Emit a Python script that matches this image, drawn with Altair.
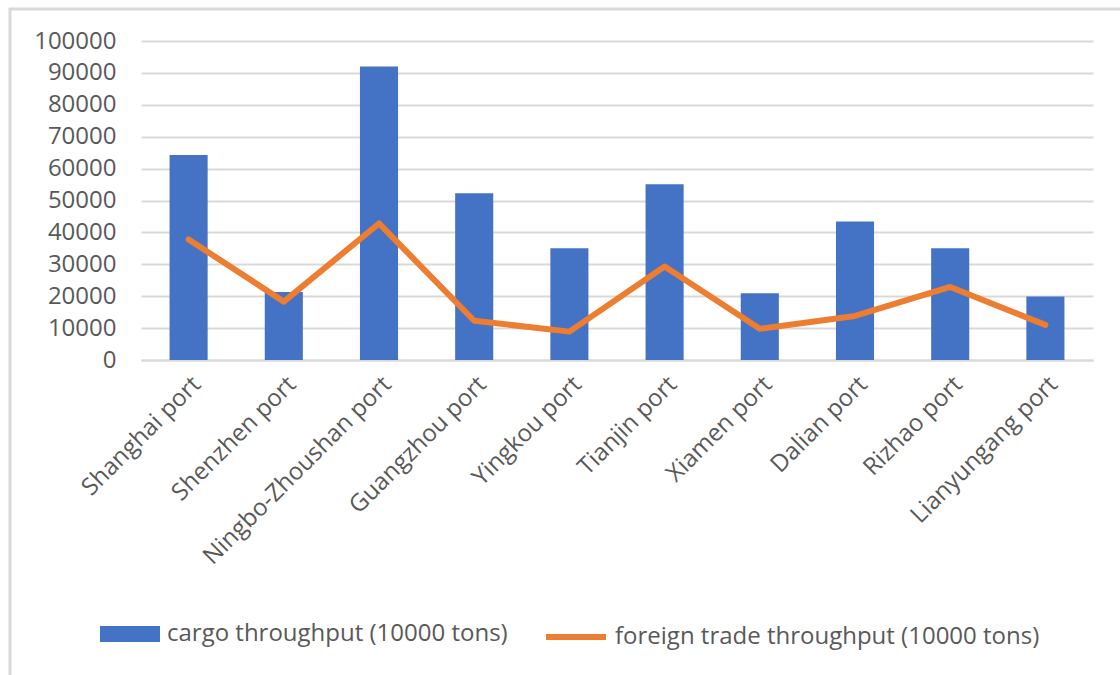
import altair as alt
import pandas as pd

# Port throughput figures (unit: 10000 tons)
ports = [
    "Shanghai port", "Shenzhen port", "Ningbo-Zhoushan port", "Guangzhou port",
    "Yingkou port", "Tianjin port", "Xiamen port", "Dalian port",
    "Rizhao port", "Lianyungang port",
]
cargo = [64300, 21300, 92000, 52300, 35000, 55100, 20900, 43400, 35000, 19900]
foreign = [37800, 18300, 42800, 12300, 8900, 29300, 9800, 13800, 22900, 11000]
y_ticks = [0, 10000, 20000, 30000, 40000, 50000, 60000, 70000, 80000, 90000, 100000]

cargo_name = "cargo throughput (10000 tons)"
foreign_name = "foreign trade throughput (10000 tons)"

BLUE = "#4472C4"
ORANGE = "#ED7D31"
GRID = "#D9D9D9"
TEXT = "#595959"
FONT = "Open Sans"
FS = 24

df = pd.DataFrame({"port": ports, "cargo": cargo, "foreign": foreign})
df["cargo_series"] = cargo_name
df["foreign_series"] = foreign_name

x_scale = alt.Scale(paddingInner=0.6, paddingOuter=0.3)
x_axis = alt.Axis(
    title=None, labelAngle=315, labelAlign="right", labelBaseline="top",
    labelPadding=12, ticks=False, domain=True, domainColor=GRID,
    domainWidth=2, labelFontSize=FS, labelColor=TEXT, labelFont=FONT,
    labelLimit=400, labelOverlap=False,
)

y_scale = alt.Scale(domain=[0, 100000], nice=False)
y_axis = alt.Axis(
    title=None, values=y_ticks, format="d",
    grid=True, gridColor=GRID, gridWidth=2, domain=False, ticks=False,
    labelPadding=25, labelFontSize=FS, labelColor=TEXT, labelFont=FONT,
    labelOverlap=False,
)

rect_path = "M-1,-0.267L1,-0.267L1,0.267L-1,0.267Z"
line_path = "M-1,0L1,0"

bars = alt.Chart(df).mark_bar(color=BLUE).encode(
    x=alt.X("port:N", sort=ports, scale=x_scale, axis=x_axis),
    y=alt.Y("cargo:Q", scale=y_scale, axis=y_axis),
    color=alt.Color(
        "cargo_series:N",
        scale=alt.Scale(domain=[cargo_name], range=[BLUE]),
        legend=alt.Legend(
            title=None, orient="none", legendX=-41, legendY=563,
            symbolType=rect_path, symbolSize=3600, symbolStrokeWidth=0,
            labelFontSize=FS, labelColor=TEXT, labelFont=FONT,
            labelOffset=7, padding=0, labelLimit=600,
        ),
    ),
)

line = alt.Chart(df).mark_line(
    color=ORANGE, strokeWidth=6, strokeJoin="round", strokeCap="round"
).encode(
    x=alt.X("port:N", sort=ports, scale=x_scale, axis=x_axis),
    y=alt.Y("foreign:Q", scale=y_scale, axis=y_axis),
    stroke=alt.Stroke(
        "foreign_series:N",
        scale=alt.Scale(domain=[foreign_name], range=[ORANGE]),
        legend=alt.Legend(
            title=None, orient="none", legendX=402, legendY=563,
            symbolType=line_path, symbolSize=3600, symbolStrokeWidth=6,
            symbolFillColor="transparent",
            labelFontSize=FS, labelColor=TEXT, labelFont=FONT,
            labelOffset=6, padding=0, labelLimit=600,
        ),
    ),
)

# Outer frame of the chart card (top and left edges)
frame_data = alt.Data(values=[{"k": 0}])
frame_top = alt.Chart(frame_data).mark_rule(color=GRID, strokeWidth=3).encode(
    x=alt.value(-132), x2=alt.value(979), y=alt.value(-32)
)
frame_left = alt.Chart(frame_data).mark_rule(color=GRID, strokeWidth=3).encode(
    x=alt.value(-131), y=alt.value(-33), y2=alt.value(634)
)

chart = alt.layer(bars, line, frame_top, frame_left).resolve_scale(
    color="independent", stroke="independent"
).properties(
    width=952, height=319,
    autosize=alt.AutoSizeParams(type="none"),
    padding={"left": 141, "top": 41, "right": 27, "bottom": 315},
    background="white",
).configure_view(stroke=None)

chart.save("out.html", embed_options={"renderer": "svg", "actions": False})
